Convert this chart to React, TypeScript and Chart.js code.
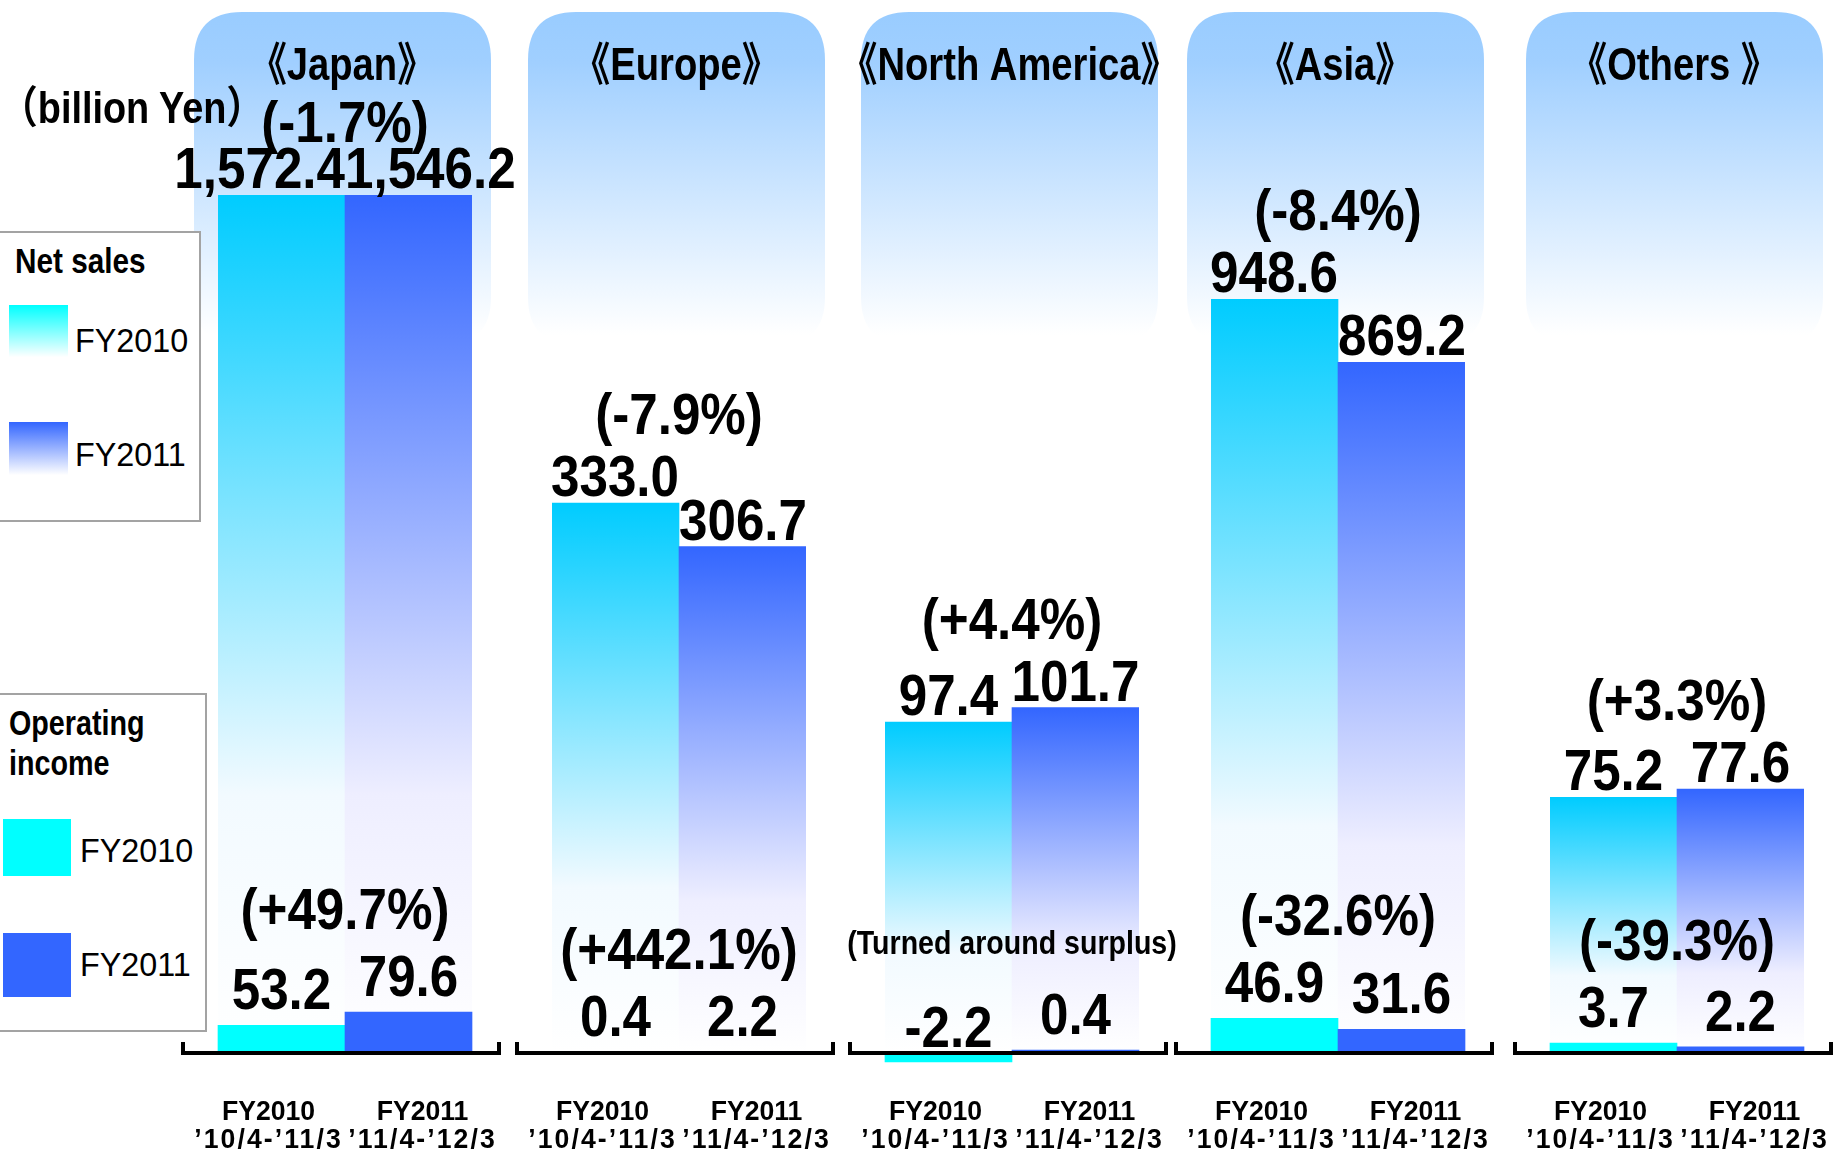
import React, { useEffect, useRef } from "react";
import { Chart, registerables } from "chart.js";

Chart.register(...registerables);

// ---------------- data ----------------
const regions = ["《Japan》", "《Europe》", "《North America》", "《Asia》", "《Others 》"];
const periodLabels = ["FY2010", "FY2011"];
const periodRanges = ["’10/4-’11/3", "’11/4-’12/3"];
const netSalesFY2010 = [1572.4, 333.0, 97.4, 948.6, 75.2];
const netSalesFY2011 = [1546.2, 306.7, 101.7, 869.2, 77.6];
const netSalesChange = ["(-1.7%)", "(-7.9%)", "(+4.4%)", "(-8.4%)", "(+3.3%)"];
const opIncomeFY2010 = [53.2, 0.4, -2.2, 46.9, 3.7];
const opIncomeFY2011 = [79.6, 2.2, 0.4, 31.6, 2.2];
const opIncomeChange = ["(+49.7%)", "(+442.1%)", "(Turned around surplus)", "(-32.6%)", "(-39.3%)"];
// each region is drawn as its own small chart with its own scale
const netSalesAxisMax = [1540, 520, 253, 1080, 253];
const opIncomeAxisMax = [1714, 4000, 190, 1190, 357];

// ---------------- layout ----------------
const CENTERS = [345, 679, 1012, 1338, 1677];
const CANVAS_W = 360;
const HALF = 127;
const AREA_TOP = 195;
const BASE_Y = 1052;
const PAGE_H = 1150;
const TITLE_BASE = 80;
const FONT = '"Liberation Sans", "Noto Sans CJK JP", Arial, sans-serif';

function drawText(
  ctx: CanvasRenderingContext2D,
  str: string,
  x: number,
  y: number,
  size: number,
  sx: number,
  bold = true,
  ls = 0
) {
  ctx.save();
  ctx.font = `${bold ? "bold " : ""}${size}px ${FONT}`;
  (ctx as any).letterSpacing = `${ls}px`;
  ctx.textAlign = "center";
  ctx.textBaseline = "alphabetic";
  ctx.fillStyle = "#000";
  ctx.translate(x, y);
  ctx.scale(sx, 1);
  ctx.fillText(str, 0, 0);
  ctx.restore();
}

function textWidth(ctx: CanvasRenderingContext2D, str: string, size: number, sx: number, bold = true) {
  ctx.save();
  ctx.font = `${bold ? "bold " : ""}${size}px ${FONT}`;
  (ctx as any).letterSpacing = "0px";
  const w = ctx.measureText(str).width * sx;
  ctx.restore();
  return w;
}

const fmt = (v: number) =>
  v.toLocaleString("en-US", { minimumFractionDigits: 1, maximumFractionDigits: 1 });

function separate(x0: number, w0: number, x1: number, w1: number) {
  const overlap = x0 + w0 / 2 - (x1 - w1 / 2);
  if (overlap > 0) return [x0 - overlap / 2, x1 + overlap / 2];
  return [x0, x1];
}

const VAL_SIZE = 58;
const VAL_SX = 0.882;

function makePlugin(i: number) {
  return {
    id: "regionDecor" + i,
    beforeDatasetsDraw(chart: any) {
      const ctx: CanvasRenderingContext2D = chart.ctx;
      const area = chart.chartArea;
      const cx = (area.left + area.right) / 2;
      // rounded header panel
      const left = cx - 151;
      const right = cx + 146;
      const top = 12;
      const bottom = 345;
      const r = 48;
      const g = ctx.createLinearGradient(0, top, 0, bottom);
      g.addColorStop(0, "#99CCFF");
      g.addColorStop(0.15, "#A0CFFF");
      g.addColorStop(0.97, "rgba(255,255,255,1)");
      g.addColorStop(1, "rgba(255,255,255,1)");
      ctx.save();
      ctx.beginPath();
      ctx.moveTo(left + r, top);
      ctx.lineTo(right - r, top);
      ctx.quadraticCurveTo(right, top, right, top + r);
      ctx.lineTo(right, bottom - r);
      ctx.quadraticCurveTo(right, bottom, right - r, bottom);
      ctx.lineTo(left + r, bottom);
      ctx.quadraticCurveTo(left, bottom, left, bottom - r);
      ctx.lineTo(left, top + r);
      ctx.quadraticCurveTo(left, top, left + r, top);
      ctx.closePath();
      ctx.fillStyle = g;
      ctx.fill();
      ctx.restore();
      drawText(ctx, regions[i], cx - 3, TITLE_BASE, 46, 0.83, true);
    },
    afterDatasetsDraw(chart: any) {
      const ctx: CanvasRenderingContext2D = chart.ctx;
      const area = chart.chartArea;
      const opMeta = chart.getDatasetMeta(0);
      const nsMeta = chart.getDatasetMeta(1);
      const yOp = chart.scales.yOp;
      const zeroOp = yOp.getPixelForValue(0);

      // bracket axis
      ctx.save();
      ctx.strokeStyle = "#000";
      ctx.lineWidth = 4;
      ctx.lineCap = "butt";
      const bl = area.left - 37;
      const br = area.right + 29;
      ctx.beginPath();
      ctx.moveTo(bl + 2, BASE_Y - 10);
      ctx.lineTo(bl + 2, BASE_Y + 1);
      ctx.lineTo(br - 2, BASE_Y + 1);
      ctx.lineTo(br - 2, BASE_Y - 10);
      ctx.stroke();
      ctx.restore();

      // net sales labels
      const nsVals = [netSalesFY2010[i], netSalesFY2011[i]];
      const nsTops = nsMeta.data.map((b: any) => Math.max(b.y, area.top));
      const nsStr = nsVals.map(fmt);
      const nsW = nsStr.map((s) => textWidth(ctx, s, VAL_SIZE, VAL_SX));
      const nsX = separate(nsMeta.data[0].x, nsW[0], nsMeta.data[1].x, nsW[1]);
      const nsBase = nsTops.map((t: number) => t - 7);
      nsStr.forEach((s, j) => drawText(ctx, s, nsX[j], nsBase[j], VAL_SIZE, VAL_SX));
      const nsMid = (nsMeta.data[0].x + nsMeta.data[1].x) / 2;
      const pctBase = Math.max(Math.min(...nsBase) - 62, TITLE_BASE + 62);
      drawText(ctx, netSalesChange[i], nsMid, pctBase, VAL_SIZE, VAL_SX);

      // operating income labels
      const opVals = [opIncomeFY2010[i], opIncomeFY2011[i]];
      const opStr = opVals.map(fmt);
      const opW = opStr.map((s) => textWidth(ctx, s, VAL_SIZE, VAL_SX));
      const opX = separate(opMeta.data[0].x, opW[0], opMeta.data[1].x, opW[1]);
      const opBase = opVals.map((v, j) =>
        v >= 0 ? Math.min(opMeta.data[j].y, zeroOp) - 16 : zeroOp - 5
      );
      opStr.forEach((s, j) => drawText(ctx, s, opX[j], opBase[j], VAL_SIZE, VAL_SX));
      const opMid = (opMeta.data[0].x + opMeta.data[1].x) / 2;
      const pctCenter = Math.min(...opBase) - 21 - 67;
      const pct = opIncomeChange[i];
      if (pct.length > 10) {
        drawText(ctx, pct, opMid, pctCenter + 8, 34, 0.84);
      } else {
        drawText(ctx, pct, opMid, pctCenter + 21, VAL_SIZE, VAL_SX);
      }

      // period tick labels
      nsMeta.data.forEach((b: any, j: number) => {
        const x = b.x + (j === 0 ? -13 : 14);
        drawText(ctx, periodLabels[j], x, 1120, 28, 0.95);
        drawText(ctx, periodRanges[j], x, 1148, 28, 0.95, true, 2.2);
      });
    },
  };
}

function nsGradient(c: any) {
  const idx = c.dataIndex ?? 0;
  const chart = c.chart;
  const area = chart.chartArea;
  const topColor = idx === 0 ? "#00CCFF" : "#3366FF";
  if (!area || c.raw === undefined) return topColor;
  const ys = chart.scales.y;
  const top = Math.max(ys.getPixelForValue(c.raw), area.top);
  const bottom = ys.getPixelForValue(0);
  const g = chart.ctx.createLinearGradient(0, top, 0, bottom);
  if (idx === 0) {
    g.addColorStop(0, "#00CCFF");
    g.addColorStop(0.7, "#F2FAFF");
    g.addColorStop(1, "#FFFFFF");
  } else {
    g.addColorStop(0, "#3366FF");
    g.addColorStop(0.7, "#EEEEFF");
    g.addColorStop(1, "#FFFFFF");
  }
  return g;
}

function RegionChart({ i }: { i: number }) {
  const ref = useRef<HTMLCanvasElement | null>(null);
  useEffect(() => {
    if (!ref.current) return;
    const pad = (CANVAS_W - 2 * HALF) / 2;
    const chart = new Chart(ref.current, {
      type: "bar",
      data: {
        labels: periodLabels,
        datasets: [
          {
            label: "Operating income",
            data: [opIncomeFY2010[i], opIncomeFY2011[i]],
            yAxisID: "yOp",
            backgroundColor: ["#00FFFF", "#3366FF"],
            grouped: false,
            barPercentage: 1,
            categoryPercentage: 1,
            clip: false,
            borderWidth: 0,
          } as any,
          {
            label: "Net sales",
            data: [netSalesFY2010[i], netSalesFY2011[i]],
            yAxisID: "y",
            backgroundColor: nsGradient,
            grouped: false,
            barPercentage: 1,
            categoryPercentage: 1,
            clip: 0,
            borderWidth: 0,
          } as any,
        ],
      },
      options: {
        animation: false,
        responsive: false,
        maintainAspectRatio: false,
        events: [],
        layout: { padding: { left: pad, right: pad, top: AREA_TOP, bottom: PAGE_H - BASE_Y } },
        scales: {
          x: { type: "category", display: false, offset: true },
          y: { display: false, min: 0, max: netSalesAxisMax[i] },
          yOp: { display: false, min: 0, max: opIncomeAxisMax[i] },
        },
        plugins: {
          legend: { display: false },
          tooltip: { enabled: false },
          title: { display: false },
        },
      } as any,
      plugins: [makePlugin(i)],
    });
    return () => chart.destroy();
  }, [i]);
  return (
    <canvas
      ref={ref}
      width={CANVAS_W}
      height={PAGE_H}
      style={{ position: "absolute", left: CENTERS[i] - CANVAS_W / 2, top: 0, width: CANVAS_W, height: PAGE_H }}
    />
  );
}

const txt = (
  left: number,
  top: number,
  size: number,
  sx: number,
  bold: boolean
): React.CSSProperties => ({
  position: "absolute",
  left,
  top,
  fontSize: size,
  lineHeight: `${size}px`,
  fontWeight: bold ? "bold" : "normal",
  fontFamily: FONT,
  transform: `scaleX(${sx})`,
  transformOrigin: "left top",
  whiteSpace: "nowrap",
  color: "#000",
});

export default function App() {
  return (
    <div
      style={{
        position: "absolute",
        left: 0,
        top: 0,
        width: 1838,
        height: 1150,
        overflow: "hidden",
        background: "#fff",
      }}
    >
      {regions.map((_, i) => (
        <RegionChart key={i} i={i} />
      ))}

      <div style={txt(0, 86, 44, 0.86, true)}>（billion Yen）</div>

      {/* Net sales legend */}
      <div
        style={{
          position: "absolute",
          left: -2,
          top: 231,
          width: 203,
          height: 291,
          boxSizing: "border-box",
          border: "2px solid #a3a3a3",
          background: "#fff",
        }}
      />
      <div style={txt(15, 243, 35, 0.85, true)}>Net sales</div>
      <div
        style={{
          position: "absolute",
          left: 9,
          top: 305,
          width: 59,
          height: 58,
          background: "linear-gradient(to bottom, #00FFFF 0%, #ffffff 90%)",
        }}
      />
      <div style={txt(75, 323, 34, 0.95, false)}>FY2010</div>
      <div
        style={{
          position: "absolute",
          left: 9,
          top: 422,
          width: 59,
          height: 59,
          background: "linear-gradient(to bottom, #3366FF 0%, #ffffff 90%)",
        }}
      />
      <div style={txt(75, 437, 34, 0.95, false)}>FY2011</div>

      {/* Operating income legend */}
      <div
        style={{
          position: "absolute",
          left: -2,
          top: 693,
          width: 209,
          height: 339,
          boxSizing: "border-box",
          border: "2px solid #a3a3a3",
          background: "#fff",
        }}
      />
      <div style={txt(9, 705, 35, 0.82, true)}>Operating</div>
      <div style={txt(9, 745, 35, 0.82, true)}>income</div>
      <div style={{ position: "absolute", left: 3, top: 819, width: 68, height: 57, background: "#00FFFF" }} />
      <div style={txt(80, 833, 34, 0.95, false)}>FY2010</div>
      <div style={{ position: "absolute", left: 3, top: 933, width: 68, height: 64, background: "#3366FF" }} />
      <div style={txt(80, 947, 34, 0.95, false)}>FY2011</div>
    </div>
  );
}
